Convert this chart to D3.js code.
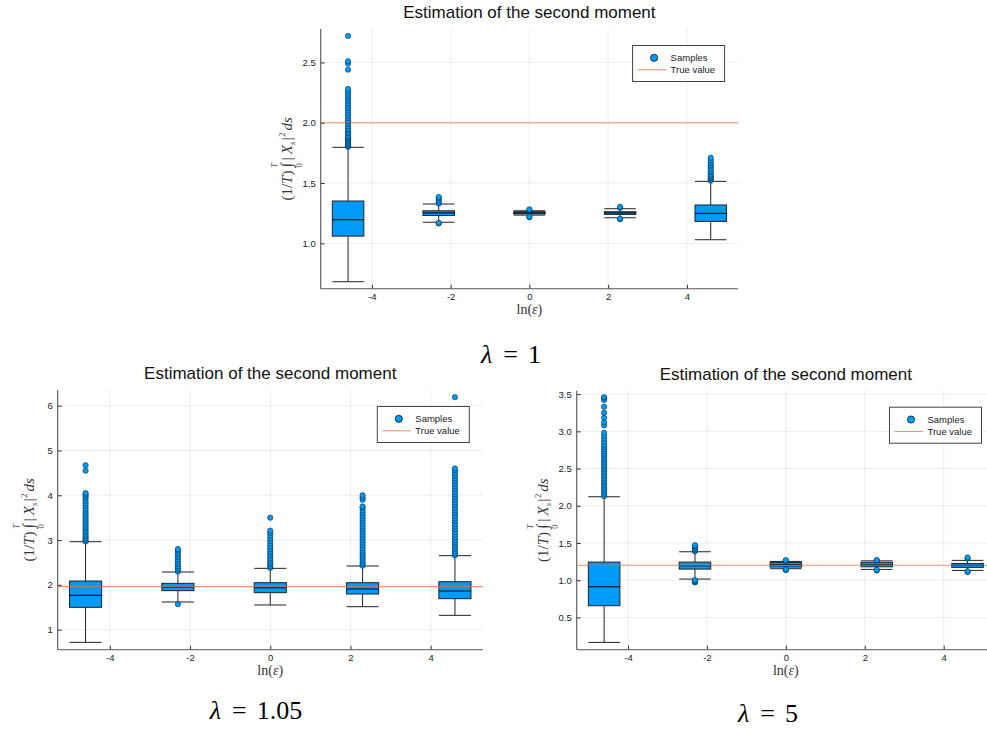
<!DOCTYPE html>
<html>
<head>
<meta charset="utf-8">
<script src="https://cdn.jsdelivr.net/npm/d3@7"></script>
<style>
  body { margin: 0; background: #fff; }
  svg { display: block; }
</style>
</head>
<body>
<div id="chart"></div>
<script>
// box positions: ln(epsilon) for epsilon = 0.01, 0.1, 1, 10, 100
const lnEps = [-4.605, -2.303, 0, 2.303, 4.605];
const xTicks = [-4, -2, 0, 2, 4];

// lambda = 1
const lam1Lower  = [0.682, 1.175, 1.234, 1.212, 1.030];
const lam1Q1     = [1.060, 1.231, 1.244, 1.240, 1.182];
const lam1Median = [1.196, 1.253, 1.253, 1.252, 1.249];
const lam1Q3     = [1.351, 1.270, 1.262, 1.262, 1.318];
const lam1Upper  = [1.796, 1.326, 1.270, 1.287, 1.514];
const lam1Outliers = [
  [1.80, 1.81, 1.82, 1.83, 1.84, 1.85, 1.86, 1.87, 1.88, 1.89, 1.91, 1.92, 1.94, 1.95, 1.97, 1.99, 2.01, 2.02,
   2.04, 2.06, 2.08, 2.10, 2.12, 2.14, 2.16, 2.18, 2.20, 2.22, 2.24, 2.26, 2.28, 2.44, 2.49, 2.51, 2.72],
  [1.165, 1.17, 1.33, 1.345, 1.36, 1.375, 1.385],
  [1.216, 1.222, 1.276, 1.282],
  [1.20, 1.205, 1.295, 1.303],
  [1.52, 1.53, 1.54, 1.55, 1.56, 1.57, 1.59, 1.60, 1.62, 1.64, 1.65, 1.67, 1.69, 1.71]
];
const lam1True = 2.0;
const lam1Ticks = [1.0, 1.5, 2.0, 2.5];

// lambda = 1.05
const lam105Lower  = [0.717, 1.618, 1.551, 1.513, 1.320];
const lam105Q1     = [1.499, 1.871, 1.826, 1.796, 1.692];
const lam105Median = [1.766, 1.952, 1.937, 1.908, 1.863];
const lam105Q3     = [2.086, 2.034, 2.049, 2.049, 2.071];
const lam105Upper  = [2.964, 2.287, 2.369, 2.421, 2.652];
const lam105Outliers = [
  [2.97, 3.00, 3.04, 3.08, 3.12, 3.17, 3.21, 3.26, 3.30, 3.35, 3.40, 3.45, 3.50, 3.55, 3.60, 3.65, 3.70, 3.76,
   3.82, 3.88, 3.94, 3.98, 4.02, 4.05, 4.55, 4.67],
  [1.57, 2.30, 2.34, 2.38, 2.42, 2.47, 2.52, 2.57, 2.62, 2.67, 2.72, 2.77, 2.80],
  [2.38, 2.42, 2.46, 2.50, 2.55, 2.60, 2.65, 2.70, 2.75, 2.80, 2.86, 2.92, 2.98, 3.04, 3.10, 3.16, 3.21, 3.50],
  [2.43, 2.47, 2.51, 2.56, 2.61, 2.66, 2.71, 2.76, 2.82, 2.88, 2.94, 3.00, 3.06, 3.12, 3.18, 3.24, 3.30, 3.36,
   3.42, 3.48, 3.54, 3.60, 3.66, 3.72, 3.75, 3.90, 3.95, 4.00],
  [2.66, 2.70, 2.75, 2.80, 2.85, 2.90, 2.95, 3.00, 3.06, 3.12, 3.18, 3.24, 3.30, 3.36, 3.42, 3.48, 3.54, 3.60,
   3.66, 3.72, 3.78, 3.84, 3.90, 3.96, 4.02, 4.08, 4.14, 4.20, 4.26, 4.32, 4.38, 4.44, 4.50, 4.56, 4.60, 6.19]
];
const lam105True = 1.96;
const lam105Ticks = [1, 2, 3, 4, 5, 6];

// lambda = 5
const lam5Lower  = [0.164, 1.015, 1.154, 1.145, 1.131];
const lam5Q1     = [0.657, 1.149, 1.176, 1.180, 1.172];
const lam5Median = [0.912, 1.194, 1.208, 1.205, 1.200];
const lam5Q3     = [1.243, 1.243, 1.239, 1.240, 1.225];
const lam5Upper  = [2.121, 1.382, 1.252, 1.260, 1.266];
const lam5Outliers = [
  [2.13, 2.16, 2.19, 2.22, 2.25, 2.28, 2.31, 2.34, 2.37, 2.40, 2.43, 2.46, 2.49, 2.52, 2.55, 2.58, 2.61, 2.64,
   2.67, 2.70, 2.73, 2.76, 2.79, 2.82, 2.86, 2.90, 2.94, 2.98, 3.08, 3.12, 3.18, 3.25, 3.33, 3.42, 3.45, 3.46],
  [0.97, 0.98, 0.99, 1.00, 1.39, 1.40, 1.42, 1.44, 1.46, 1.47],
  [1.135, 1.145, 1.26, 1.27],
  [1.13, 1.14, 1.265, 1.27],
  [1.11, 1.12, 1.29, 1.305]
];
const lam5True = 1.2;
const lam5Ticks = [0.5, 1.0, 1.5, 2.0, 2.5, 3.0, 3.5];

const blue = "#009af9", orange = "#e26f46";
const sans = "Liberation Sans, Arial, sans-serif";
const serif = "Liberation Serif, Times New Roman, serif";

const panels = [
  { lambda: "1", left: 320.7, right: 738.1, top: 29, bottom: 288.7, yDomain: [0.624, 2.777], yTicks: lam1Ticks, fmt: ".1f",
    lower: lam1Lower, q1: lam1Q1, median: lam1Median, q3: lam1Q3, upper: lam1Upper, outliers: lam1Outliers, truth: lam1True,
    labelX: 292, captionX: 511, captionY: 363 },
  { lambda: "1.05", left: 57.7, right: 482.8, top: 390, bottom: 649.7, yDomain: [0.553, 6.35], yTicks: lam105Ticks, fmt: "d",
    lower: lam105Lower, q1: lam105Q1, median: lam105Median, q3: lam105Q3, upper: lam105Upper, outliers: lam105Outliers, truth: lam105True,
    labelX: 34, captionX: 256, captionY: 719 },
  { lambda: "5", left: 576.7, right: 995, top: 390.7, bottom: 649.7, yDomain: [0.066, 3.546], yTicks: lam5Ticks, fmt: ".1f",
    lower: lam5Lower, q1: lam5Q1, median: lam5Median, q3: lam5Q3, upper: lam5Upper, outliers: lam5Outliers, truth: lam5True,
    labelX: 548, captionX: 768, captionY: 722 }
];

const svg = d3.select("#chart").append("svg")
  .attr("width", 987)
  .attr("height", 732);
svg.append("rect").attr("width", 987).attr("height", 732).attr("fill", "#fff");

panels.forEach(drawPanel);

function drawPanel(p) {
  const x = d3.scaleLinear().domain([-5.3, 5.3]).range([p.left, p.right]);
  const y = d3.scaleLinear().domain(p.yDomain).range([p.bottom, p.top]);
  const g = svg.append("g");
  const boxW = 0.8;

  // grid
  g.append("g").selectAll("line").data(xTicks).join("line")
    .attr("x1", d => x(d)).attr("x2", d => x(d))
    .attr("y1", p.top).attr("y2", p.bottom)
    .attr("stroke", "#000").attr("stroke-opacity", 0.07).attr("stroke-width", 1);
  g.append("g").selectAll("line").data(p.yTicks).join("line")
    .attr("x1", p.left).attr("x2", p.right)
    .attr("y1", d => y(d)).attr("y2", d => y(d))
    .attr("stroke", "#000").attr("stroke-opacity", 0.07).attr("stroke-width", 1);

  // axes (ticks inside, julia style)
  const xAxis = d3.axisTop(x).tickValues(xTicks).tickSize(4).tickFormat(d => String(d));
  const xg = g.append("g").attr("transform", `translate(0,${p.bottom})`).call(xAxis);
  xg.selectAll("text").attr("y", 11).attr("dy", 0);
  const yf = d3.format(p.fmt);
  const yAxis = d3.axisRight(y).tickValues(p.yTicks).tickSize(4).tickFormat(d => yf(d));
  const yg = g.append("g").attr("transform", `translate(${p.left},0)`).call(yAxis);
  yg.selectAll("text").attr("x", -5).attr("text-anchor", "end");
  [xg, yg].forEach(a => {
    a.select(".domain").remove();
    a.selectAll("line").attr("stroke", "#333");
    a.selectAll("text").style("font-family", sans).style("font-size", "9.5px").attr("fill", "#222");
  });
  // spines
  g.append("line").attr("x1", p.left).attr("x2", p.right).attr("y1", p.bottom).attr("y2", p.bottom)
    .attr("stroke", "#555").attr("stroke-width", 1.1);
  g.append("line").attr("x1", p.left).attr("x2", p.left).attr("y1", p.top).attr("y2", p.bottom)
    .attr("stroke", "#555").attr("stroke-width", 1.1);

  // boxes
  const boxes = lnEps.map((e, i) => ({ e, lo: p.lower[i], q1: p.q1[i], med: p.median[i], q3: p.q3[i], hi: p.upper[i], out: p.outliers[i] }));
  const bg = g.append("g").selectAll("g").data(boxes).join("g");
  bg.append("line")
    .attr("x1", d => x(d.e)).attr("x2", d => x(d.e))
    .attr("y1", d => y(d.lo)).attr("y2", d => y(d.hi))
    .attr("stroke", "#222").attr("stroke-width", 1);
  bg.selectAll(".cap").data(d => [d.lo, d.hi].map(v => ({ e: d.e, v }))).join("line")
    .attr("class", "cap")
    .attr("x1", d => x(d.e - boxW / 2)).attr("x2", d => x(d.e + boxW / 2))
    .attr("y1", d => y(d.v)).attr("y2", d => y(d.v))
    .attr("stroke", "#222").attr("stroke-width", 1);
  bg.append("rect")
    .attr("x", d => x(d.e - boxW / 2))
    .attr("width", d => x(d.e + boxW / 2) - x(d.e - boxW / 2))
    .attr("y", d => y(d.q3))
    .attr("height", d => y(d.q1) - y(d.q3))
    .attr("fill", blue).attr("stroke", "#222").attr("stroke-width", 1);
  bg.append("line")
    .attr("x1", d => x(d.e - boxW / 2)).attr("x2", d => x(d.e + boxW / 2))
    .attr("y1", d => y(d.med)).attr("y2", d => y(d.med))
    .attr("stroke", "#111").attr("stroke-width", 1.2);
  bg.selectAll("circle").data(d => d.out.map(v => ({ e: d.e, v }))).join("circle")
    .attr("cx", d => x(d.e)).attr("cy", d => y(d.v)).attr("r", 2.7)
    .attr("fill", blue).attr("stroke", "#000").attr("stroke-opacity", 0.7).attr("stroke-width", 0.6);

  // true value
  g.append("line")
    .attr("x1", p.left).attr("x2", p.right)
    .attr("y1", y(p.truth)).attr("y2", y(p.truth))
    .attr("stroke", orange).attr("stroke-opacity", 0.75).attr("stroke-width", 1.1);

  // title
  g.append("text")
    .attr("x", (p.left + p.right) / 2).attr("y", p.top - 11)
    .attr("text-anchor", "middle")
    .style("font-family", sans).style("font-size", "17px").attr("fill", "#111")
    .text("Estimation of the second moment");

  // x label ln(ε)
  const xl = g.append("text")
    .attr("x", (p.left + p.right) / 2).attr("y", p.bottom + 25)
    .attr("text-anchor", "middle")
    .style("font-family", serif).style("font-size", "14px").attr("fill", "#333");
  xl.append("tspan").text("ln(");
  xl.append("tspan").style("font-style", "italic").text("ε");
  xl.append("tspan").text(")");

  yLabel(g, p.labelX, (p.top + p.bottom) / 2);

  // legend
  const lx = p.right - 105.5, ly = p.top + 16.5;
  const lg = g.append("g").attr("transform", `translate(${lx},${ly})`);
  lg.append("rect").attr("width", 92).attr("height", 36)
    .attr("fill", "#fff").attr("stroke", "#444").attr("stroke-width", 1);
  lg.append("circle").attr("cx", 21.5).attr("cy", 12.3).attr("r", 3.6)
    .attr("fill", blue).attr("stroke", "#000").attr("stroke-width", 0.7);
  lg.append("line").attr("x1", 5).attr("x2", 33.5).attr("y1", 24.3).attr("y2", 24.3)
    .attr("stroke", orange).attr("stroke-opacity", 0.75).attr("stroke-width", 1.1);
  lg.selectAll(".lt").data(["Samples", "True value"]).join("text")
    .attr("class", "lt")
    .attr("x", 38).attr("y", (d, i) => 15.6 + i * 12)
    .style("font-family", sans).style("font-size", "9.5px").attr("fill", "#222")
    .text(d => d);

  // caption λ = ...
  caption(p.captionX, p.captionY, p.lambda);
}

function yLabel(g, cx, cy) {
  const lab = g.append("g").attr("transform", `translate(${cx},${cy}) rotate(-90)`);
  const pieces = [
    { t: "(1/", fs: 15 },
    { t: "T", fs: 15, it: true },
    { t: ")", fs: 15, gap: 3 },
    { t: "∫", fs: 16, integral: true, gap: 3 },
    { t: "|", fs: 15, gap: 3 },
    { t: "X", fs: 15, it: true },
    { t: "s", fs: 8.5, it: true, dy: 3, gap: 1.5 },
    { t: "|", fs: 15, gap: 0.5 },
    { t: "2", fs: 8.5, dy: -7, gap: 2 },
    { t: "ds", fs: 15, it: true }
  ];
  let pos = 0;
  pieces.forEach(pc => {
    const t = lab.append("text")
      .attr("x", pos).attr("y", pc.dy || 0)
      .style("font-family", serif).style("font-size", pc.fs + "px")
      .style("font-style", pc.it ? "italic" : "normal")
      .attr("fill", "#333").text(pc.t);
    const w = t.node().getComputedTextLength();
    if (pc.integral) {
      lab.append("text").attr("x", pos + w / 2).attr("y", -15).attr("text-anchor", "middle")
        .style("font-family", serif).style("font-size", "8.5px").style("font-style", "italic")
        .attr("fill", "#333").text("T");
      lab.append("text").attr("x", pos + w / 2).attr("y", 10).attr("text-anchor", "middle")
        .style("font-family", serif).style("font-size", "8.5px")
        .attr("fill", "#333").text("0");
    }
    pos += w + (pc.gap || 0);
  });
  lab.selectAll("text").attr("x", function () { return +d3.select(this).attr("x") - pos / 2; });
}

function caption(cx, baseline, value) {
  const cg = svg.append("g");
  const parts = [
    { t: "λ", it: true, gap: 11 },
    { t: "=", gap: 10 },
    { t: value }
  ];
  let pos = 0;
  parts.forEach(pt => {
    const t = cg.append("text").attr("x", pos).attr("y", baseline)
      .style("font-family", serif).style("font-size", "26px")
      .style("font-style", pt.it ? "italic" : "normal")
      .attr("fill", "#000").text(pt.t);
    pos += t.node().getComputedTextLength() + (pt.gap || 0);
  });
  cg.selectAll("text").attr("x", function () { return +d3.select(this).attr("x") + cx - pos / 2; });
}
</script>
</body>
</html>
